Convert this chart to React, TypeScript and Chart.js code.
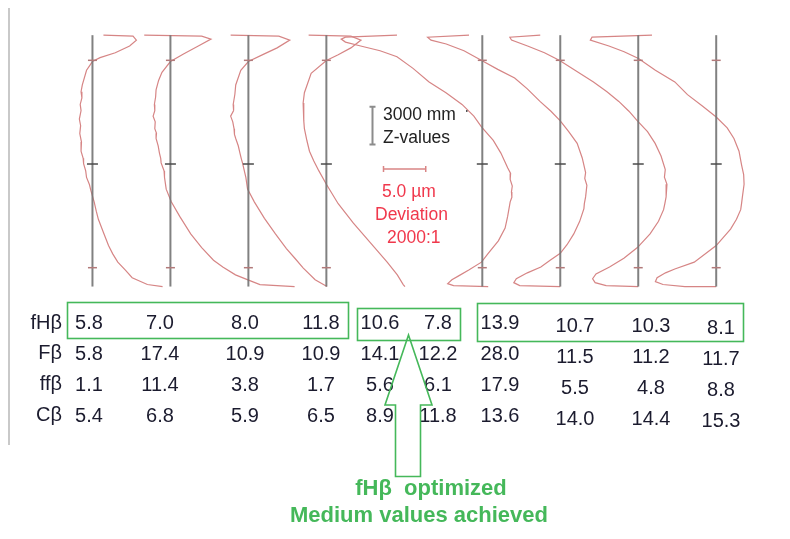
import React, { useEffect, useRef } from "react";
import { Chart, registerables } from "chart.js";

Chart.register(...registerables);

// ---------- DATA ----------
// Table rows (µm)
const rowLabels = ["fHβ", "Fβ", "ffβ", "Cβ"];
const fHbeta = [5.8, 7.0, 8.0, 11.8, 10.6, 7.8, 13.9, 10.7, 10.3, 8.1];
const Fbeta = [5.8, 17.4, 10.9, 10.9, 14.1, 12.2, 28.0, 11.5, 11.2, 11.7];
const ffbeta = [1.1, 11.4, 3.8, 1.7, 5.6, 6.1, 17.9, 5.5, 4.8, 8.8];
const Cbeta = [5.4, 6.8, 5.9, 6.5, 8.9, 11.8, 13.6, 14.0, 14.4, 15.3];

// Tooth reference slots along the strip (slot 4 has no reference line)
const toothSlots = [0, 1, 2, 3, 5, 6, 7, 8];
// Z values (mm)
const zRange = [0, 20000];
const zTicksOuter = [1500, 18000];
const zTicksMid = [9750];
const zScaleMm = 3000;
const devScaleUm = 5.0;

// Helix deviation traces: [deviation µm, z mm]
const flank1: number[][] = [
  [1.3, 20000], [4.8, 19920], [5.2, 19610], [4.4, 19140], [2.7, 18600], [0.9, 18210], [0.0, 17900],
  [-0.7, 17210], [-1.2, 16040], [-1.35, 15500], [-1.25, 15000], [-1.45, 14490], [-1.35, 14000],
  [-1.55, 13330], [-1.4, 12800], [-1.5, 12170], [-1.3, 11500], [-1.35, 10770], [-1.1, 10200],
  [-1.05, 9770], [-0.8, 9200], [-0.7, 8680], [-0.35, 8100], [-0.2, 7670], [0.2, 6740], [0.45, 6000],
  [0.7, 5350], [1.3, 4300], [1.9, 3260], [2.4, 2600], [3.0, 1940], [3.9, 1300], [4.7, 700],
  [6.5, 160], [8.3, 0],
];
const flank2: number[][] = [
  [-3.1, 20000], [3.7, 19920], [4.8, 19690], [3.3, 19140], [1.6, 18520], [0.0, 17900], [-1.0, 17050],
  [-1.4, 16400], [-1.7, 15660], [-1.75, 15100], [-1.9, 14490], [-1.85, 14000], [-2.05, 13560],
  [-1.8, 13100], [-1.85, 12560], [-1.65, 12200], [-1.7, 11780], [-1.45, 11200], [-1.3, 10620],
  [-1.15, 10200], [-1.1, 9840], [-0.75, 9200], [-0.7, 8680], [-0.5, 7750], [0.1, 6740], [1.1, 5580],
  [2.4, 4190], [3.7, 3100], [5.1, 2090], [6.2, 1550], [7.7, 930], [9.4, 470], [10.6, 160], [14.7, 0],
];
const flank3: number[][] = [
  [-2.1, 20000], [3.6, 19920], [4.9, 19610], [3.4, 18990], [1.7, 18450], [0.0, 17900], [-0.9, 17210],
  [-1.5, 16040], [-1.6, 15300], [-1.8, 14490], [-1.75, 14000], [-2.1, 13560], [-1.85, 13100],
  [-1.7, 12560], [-1.65, 12100], [-1.5, 11780], [-1.2, 11200], [-1.0, 10620], [-0.85, 10200],
  [-0.7, 9840], [-0.3, 8680], [-0.1, 7750], [0.7, 6740], [1.9, 5430], [3.2, 4190], [4.5, 3020],
  [5.5, 2250], [6.5, 1470], [7.9, 540], [9.3, 0],
];
const flank4: number[][] = [
  [-2.1, 20000], [2.9, 19920], [4.1, 19610], [2.9, 18990], [1.4, 18450], [0.0, 17980], [-1.8, 16970],
  [-2.6, 15420], [-2.75, 14600], [-2.7, 13870], [-2.65, 13200], [-2.6, 12560], [-2.3, 11600],
  [-2.0, 10770], [-1.5, 10000], [-0.9, 9220], [0.0, 8140], [1.4, 6590], [3.2, 5040], [5.2, 3490],
  [7.2, 1940], [8.4, 930], [9.1, 160], [9.3, 0],
];
const flank5: number[][] = [
  [-10.1, 20000], [-16.2, 19840], [-16.7, 19690], [-16.2, 19450], [-14.4, 19140], [-12.1, 18760],
  [-10.1, 18290], [-8.2, 17360], [-6.3, 16280], [-4.3, 15420], [-2.4, 14490], [-1.0, 13560],
  [-0.1, 12710], [1.3, 11630], [2.2, 10620], [3.0, 9460], [3.35, 9000], [3.3, 8530], [3.55, 8000],
  [3.45, 7520], [3.5, 7100], [3.3, 6740], [3.0, 5580], [2.7, 4650], [1.9, 3640], [0.7, 2640],
  [-0.1, 1940], [-1.6, 1320], [-2.8, 850], [-3.6, 540], [-4.1, 230], [-3.4, 80], [0.7, 0],
];
const flank6: number[][] = [
  [-10.8, 20000], [-15.7, 19840], [-15.3, 19610], [-13.5, 19300], [-11.4, 18760], [-9.3, 17980],
  [-7.4, 17280], [-5.4, 16590], [-3.9, 15730], [-2.4, 14730], [-1.1, 13950], [0.0, 13180],
  [1.0, 12320], [2.0, 11390], [2.6, 10230], [3.0, 9070], [2.9, 8600], [3.15, 8060], [3.0, 7130],
  [2.85, 6600], [2.8, 6200], [2.3, 5190], [1.6, 4190], [0.8, 3330], [0.0, 2640], [-1.2, 2090],
  [-2.3, 1550], [-3.9, 1090], [-5.2, 620], [-5.5, 310], [-4.8, 80], [0.0, 0],
];
const flank7: number[][] = [
  [-11.6, 20000], [-15.2, 19840], [-15.0, 19610], [-13.1, 19140], [-11.1, 18600], [-9.3, 17980],
  [-7.3, 17130], [-5.3, 16280], [-3.7, 15500], [-2.3, 14730], [-1.1, 13950], [-0.1, 13180],
  [1.1, 12320], [2.0, 11390], [2.7, 10390], [3.2, 9300], [3.1, 8700], [3.4, 8140], [3.3, 7130],
  [3.15, 6600], [3.0, 6120], [2.4, 5190], [1.4, 4190], [-0.1, 3100], [-1.7, 2250], [-3.4, 1550],
  [-5.0, 1010], [-5.4, 620], [-5.1, 310], [-3.8, 80], [0.0, 0],
];
const flank8: number[][] = [
  [-7.6, 20000], [-14.7, 19840], [-14.9, 19610], [-12.7, 19140], [-10.9, 18680], [-9.2, 18140],
  [-7.2, 17210], [-4.9, 16280], [-3.4, 15270], [-1.6, 14340], [0.0, 13490], [1.3, 12630],
  [2.1, 11780], [2.7, 10770], [3.0, 9690], [3.25, 8900], [3.3, 8140], [3.1, 7130], [3.0, 6600],
  [2.9, 6120], [2.4, 5350], [1.7, 4570], [0.0, 3260], [-2.6, 1940], [-4.9, 1400], [-6.0, 1090],
  [-7.0, 700], [-7.2, 390], [-6.3, 160], [-3.7, 0], [0.0, 0],
];
const flanks = [flank1, flank2, flank3, flank4, flank5, flank6, flank7, flank8];

// ---------- LAYOUT ----------
const W = 790;
const H = 539;
const PX_PER_UM = 8.6;
const MM_PER_PX = 77.5;
const Z0_PX = 287;
const SLOT0_PX = 87;
const SLOT_PITCH_PX = 79.375;
const slotUm = (s: number) => (SLOT0_PX + s * SLOT_PITCH_PX) / PX_PER_UM;

const colX = [89, 160, 245, 321, 380, 438, 500, 575, 651, 721];
const colDy = [0, 0, 0, 0, 0, 0, 0, 3, 3, 5];
const rowY = [323, 354, 385, 416];
const FONT = "'Liberation Sans', Arial, sans-serif";

const LINE_COLOR = "rgba(115,115,115,0.9)";
const TRACE_COLOR = "#d68585";
const GREEN = "#45b85a";

const annotationPlugin = {
  id: "annotations",
  afterDraw(chart: any) {
    const ctx: CanvasRenderingContext2D = chart.ctx;
    const xs = chart.scales.x;
    const ys = chart.scales.y;
    ctx.save();

    // left frame line
    ctx.strokeStyle = "#c9c9c9";
    ctx.lineWidth = 2;
    ctx.beginPath();
    ctx.moveTo(9, 8);
    ctx.lineTo(9, 445);
    ctx.stroke();

    // Z scale bar
    const zbX = 372.5;
    const zbBottom = ys.getPixelForValue(11300);
    const zbTop = ys.getPixelForValue(11300 + zScaleMm);
    ctx.strokeStyle = "#8c8c8c";
    ctx.lineWidth = 2;
    ctx.beginPath();
    ctx.moveTo(zbX, zbTop);
    ctx.lineTo(zbX, zbBottom);
    ctx.moveTo(zbX - 3, zbTop);
    ctx.lineTo(zbX + 3, zbTop);
    ctx.moveTo(zbX - 3, zbBottom);
    ctx.lineTo(zbX + 3, zbBottom);
    ctx.stroke();

    ctx.fillStyle = "#222";
    ctx.font = `17.5px ${FONT}`;
    ctx.textBaseline = "middle";
    ctx.textAlign = "left";
    ctx.fillText(`${zScaleMm} mm`, 383, 115);
    ctx.fillText("Z-values", 383, 138);
    ctx.fillStyle = "#555";
    ctx.fillRect(466, 110, 1.5, 2);

    // deviation scale bar
    const dx0 = 383.5;
    const u0 = xs.getValueForPixel(dx0);
    const dx1 = xs.getPixelForValue(u0 + devScaleUm);
    ctx.strokeStyle = "#d98585";
    ctx.lineWidth = 1.5;
    ctx.beginPath();
    ctx.moveTo(dx0, 169);
    ctx.lineTo(dx1, 169);
    ctx.moveTo(dx0, 166);
    ctx.lineTo(dx0, 172);
    ctx.moveTo(dx1, 166);
    ctx.lineTo(dx1, 172);
    ctx.stroke();

    ctx.fillStyle = "#f0384c";
    ctx.font = `17.5px ${FONT}`;
    ctx.fillText(`${devScaleUm.toFixed(1)} µm`, 382, 192);
    ctx.fillText("Deviation", 375, 215);
    ctx.fillText("2000:1", 387, 238);

    // table
    const rows = [fHbeta, Fbeta, ffbeta, Cbeta];
    ctx.fillStyle = "#1b1b2e";
    ctx.font = `20px ${FONT}`;
    ctx.textAlign = "right";
    rowLabels.forEach((lab, r) => ctx.fillText(lab, 62, rowY[r] - (r === 0 ? 0 : 1)));
    ctx.textAlign = "center";
    rows.forEach((vals, r) => {
      vals.forEach((v, c) => {
        ctx.fillText(v.toFixed(1), colX[c], rowY[r] + colDy[c]);
      });
    });

    // green boxes
    ctx.strokeStyle = GREEN;
    ctx.lineWidth = 1.6;
    ctx.strokeRect(67.5, 302.5, 281, 36);
    ctx.strokeRect(357.5, 308.5, 103, 32);
    ctx.strokeRect(477.5, 303.5, 266, 38);

    // green arrow
    ctx.beginPath();
    ctx.moveTo(408.5, 335);
    ctx.lineTo(385, 405);
    ctx.lineTo(395.5, 405);
    ctx.lineTo(395.5, 476.5);
    ctx.lineTo(420.5, 476.5);
    ctx.lineTo(420.5, 405);
    ctx.lineTo(432, 405);
    ctx.closePath();
    ctx.stroke();

    // green note
    ctx.fillStyle = GREEN;
    ctx.font = `bold 22px ${FONT}`;
    ctx.textAlign = "center";
    ctx.fillText("fHβ  optimized", 431, 489);
    ctx.fillText("Medium values achieved", 419, 516);

    ctx.restore();
  },
};

export default function App() {
  const ref = useRef<HTMLCanvasElement | null>(null);

  useEffect(() => {
    if (!ref.current) return;

    const lineSets = toothSlots.map((s) => ({
      type: "line" as const,
      data: [
        { x: slotUm(s), y: zRange[0] },
        { x: slotUm(s), y: zRange[1] },
      ],
      borderColor: LINE_COLOR,
      borderWidth: 2,
      pointRadius: 0,
      order: 2,
    }));

    const outerTicks = {
      type: "scatter" as const,
      data: toothSlots.flatMap((s) => zTicksOuter.map((z) => ({ x: slotUm(s), y: z }))),
      pointStyle: "line" as const,
      pointRadius: 4.5,
      borderColor: "#b27a7a",
      borderWidth: 1.5,
      order: 1,
    };
    const midTicks = {
      type: "scatter" as const,
      data: toothSlots.flatMap((s) => zTicksMid.map((z) => ({ x: slotUm(s), y: z }))),
      pointStyle: "line" as const,
      pointRadius: 5.5,
      borderColor: "#4a4a4a",
      borderWidth: 1.5,
      order: 1,
    };

    const traceSets = flanks.map((f, i) => ({
      type: "line" as const,
      data: f.map(([d, z]) => ({ x: slotUm(toothSlots[i]) + d, y: z })),
      borderColor: TRACE_COLOR,
      borderWidth: 1.2,
      pointRadius: 0,
      tension: 0,
      order: 3,
    }));

    const chart = new Chart(ref.current, {
      type: "scatter",
      data: { datasets: [...lineSets, outerTicks, midTicks, ...traceSets] as any },
      options: {
        animation: false,
        responsive: false,
        events: [],
        layout: { padding: 0 },
        plugins: { legend: { display: false }, tooltip: { enabled: false } },
        scales: {
          x: { type: "linear", display: false, min: 0, max: W / PX_PER_UM },
          y: {
            type: "linear",
            display: false,
            min: (Z0_PX - H) * MM_PER_PX,
            max: Z0_PX * MM_PER_PX,
          },
        },
      },
      plugins: [annotationPlugin],
    });
    return () => chart.destroy();
  }, []);

  return (
    <div style={{ position: "absolute", left: 0, top: 0, width: W, height: H, background: "#fff" }}>
      <canvas ref={ref} width={W} height={H} style={{ display: "block" }} />
    </div>
  );
}
